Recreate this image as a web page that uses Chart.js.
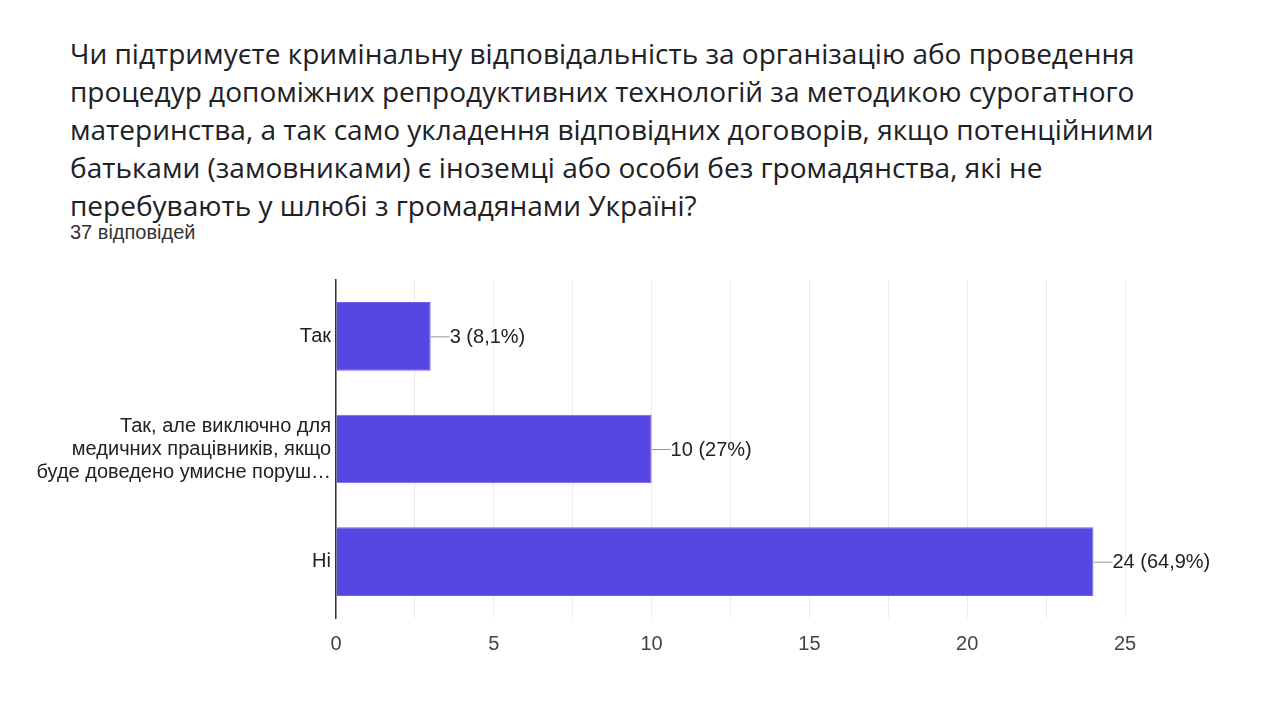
<!DOCTYPE html>
<html>
<head>
<meta charset="utf-8">
<style>
    body { margin: 0; width: 1280px; height: 720px; background: #fff; position: relative; overflow: hidden; }
    #title { position: absolute; left: 70px; top: 34px; width: 1180px; font-family: "Open Sans", "Noto Sans", sans-serif; font-size: 28px; line-height: 38px; color: #202124; white-space: nowrap; }
    #count { position: absolute; left: 70px; top: 221px; font-family: "Liberation Sans", Arial, sans-serif; font-size: 20px; color: #333; }
    #div { position: absolute; left: 0; top: 260px; width: 1280px; height: 420px; }
</style>
</head>

<body>
<div id="title">Чи підтримуєте кримінальну відповідальність за організацію або проведення<br>процедур допоміжних репродуктивних технологій за методикою сурогатного<br>материнства, а так само укладення відповідних договорів, якщо потенційними<br>батьками (замовниками) є іноземці або особи без громадянства, які не<br>перебувають у шлюбі з громадянами Україні?</div>
<div id="count">37 відповідей</div>
<div id="div">
    <canvas id="chart"></canvas>
</div>

<script src="https://cdn.jsdelivr.net/npm/chart.js"></script>

<script type="text/javascript">
    const answers = [
        ['Так'],
        ['Так, але виключно для', 'медичних працівників, якщо', 'буде доведено умисне поруш…'],
        ['Ні']
    ];
    const counts = [3, 10, 24];
    const percents = ['8,1%', '27%', '64,9%'];
    const xTicks = [0, 5, 10, 15, 20, 25];

    const FONT = '"Liberation Sans", Arial, sans-serif';

    // leader line + "n (p%)" to the right of each bar
    const valueLabels = {
        id: 'valueLabels',
        afterDatasetsDraw(chart) {
            const ctx = chart.ctx;
            const meta = chart.getDatasetMeta(0);
            ctx.save();
            ctx.font = '20px ' + FONT;
            ctx.textBaseline = 'middle';
            meta.data.forEach((bar, i) => {
                ctx.strokeStyle = '#999';
                ctx.lineWidth = 1;
                ctx.beginPath();
                ctx.moveTo(bar.x, bar.y + 0.5);
                ctx.lineTo(bar.x + 19, bar.y + 0.5);
                ctx.stroke();
                ctx.fillStyle = '#222';
                ctx.fillText(counts[i] + ' (' + percents[i] + ')', bar.x + 19, bar.y + 1);
            });
            ctx.restore();
        }
    };

    chart = new Chart(document.getElementById('chart'), {
        type: 'bar',
        data: {
            labels: answers,
            datasets: [{
                data: counts,
                backgroundColor: '#5747e2',
                borderColor: '#6f62ea',
                borderWidth: 1,
                categoryPercentage: 1,
                barPercentage: 0.61
            }]
        },
        options: {
            indexAxis: 'y',
            responsive: true,
            maintainAspectRatio: false,
            animation: false,
            layout: {
                padding: { top: 20, right: 155 }
            },
            scales: {
                x: {
                    min: 0,
                    max: 25,
                    afterFit: (axis) => { axis.height = 62; },
                    afterBuildTicks: (axis) => {
                        let t = [];
                        for (let v = 0; v <= 25; v += 2.5) t.push({ value: v });
                        axis.ticks = t;
                    },
                    grid: { color: '#ebebeb', drawTicks: false },
                    border: { display: false },
                    ticks: {
                        autoSkip: false,
                        maxRotation: 0,
                        padding: 14,
                        color: '#444',
                        font: { family: FONT, size: 20 },
                        callback: (v) => xTicks.includes(v) ? String(v) : ''
                    }
                },
                y: {
                    afterFit: (axis) => { axis.width = 336; },
                    grid: { display: false, drawTicks: false },
                    border: { display: true, color: '#333', width: 1.5 },
                    ticks: {
                        padding: 5,
                        color: '#222',
                        font: { family: FONT, size: 20, lineHeight: 1.15 }
                    }
                }
            },
            plugins: {
                legend: { display: false },
                tooltip: { enabled: false }
            }
        },
        plugins: [valueLabels]
    });
</script>
</body>
</html>
